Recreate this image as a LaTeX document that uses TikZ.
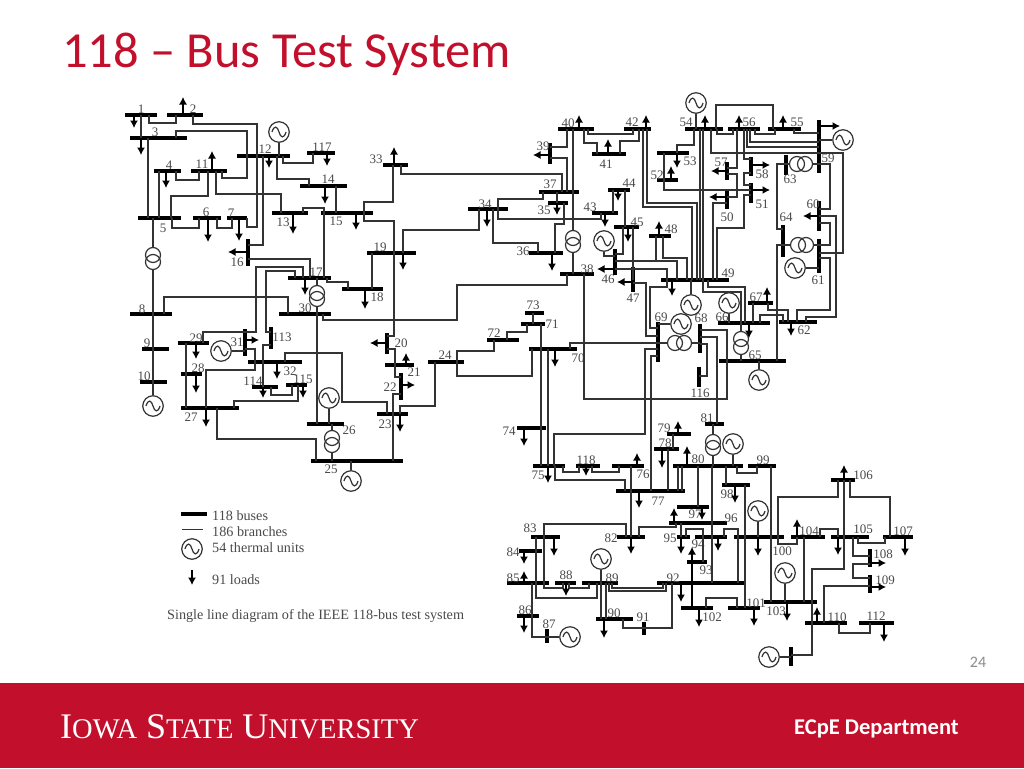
\documentclass[tikz,border=0pt]{standalone}
\usepackage{fontspec}
\setmainfont{Liberation Serif}
\newfontfamily\calfont{Carlito}
\definecolor{isured}{HTML}{C2102C}
\definecolor{ink}{HTML}{333333}
\definecolor{lblc}{HTML}{4A4A4A}
\usetikzlibrary{arrows.meta}
\tikzset{
 hbus/.style={fill=black,draw=none,inner sep=0pt,minimum height=3.6pt,rectangle},
 vbus/.style={fill=black,draw=none,inner sep=0pt,minimum width=3.6pt,rectangle},
 wire/.style={draw=ink,line width=1.2pt},
 loadarrow/.style={draw=black,line width=1.2pt,-{Latex[length=7.5pt,width=8pt]}},
 gen/.style={circle,draw=ink,line width=1.2pt,minimum size=20.5pt,inner sep=0pt,fill=white},
 xfmr/.style={circle,draw=ink,line width=1.2pt,minimum size=15pt,inner sep=0pt},
 sine/.style={draw=ink,line width=1.2pt},
 lbl/.style={font=\fontsize{13}{13}\selectfont,text=lblc,inner sep=0pt},
 legend/.style={font=\fontsize{14.2}{14.2}\selectfont,text=lblc,inner sep=0pt,anchor=west},
}
\newcommand\hb[4]{\node[hbus,minimum width={#3-#2}] (b#1) at ({(#2+#3)/2},#4) {};}
\newcommand\vb[4]{\node[vbus,minimum height={#4-#3}] (b#1) at (#2,{(#3+#4)/2}) {};}
\newcommand\lab[3]{\node[lbl] (l#1) at (#2,#3) {#1};}
\newcommand\gn[3]{\node[gen] (#1) at (#2,#3) {};\draw[sine,shift={(#2,#3)}] (-7,0) .. controls (-5,-7) and (-1.5,-6) .. (0,0) .. controls (1.5,6) and (5,7) .. (7,0);}
\newcommand\tfm[5]{\node[xfmr] (#1a) at (#2,#3) {};\node[xfmr] (#1b) at (#4,#5) {};}
% load on horizontal bus: bus, x, y of tip
\newcommand\ld[3]{\coordinate (e#1x#2) at (#2,#3);\draw[loadarrow] (#2,0 |- b#1) -- (e#1x#2);}
% load on vertical bus: bus, y, x of tip
\newcommand\lv[3]{\coordinate (e#1y#2) at (#3,#2);\draw[loadarrow] (b#1 |- 0,#2) -- (e#1y#2);}
\begin{document}
\begin{tikzpicture}[x=1pt,y=-1pt]
\useasboundingbox (0,0) rectangle (1024,768);
\fill[white] (0,0) rectangle (1024,768);
\node[inner sep=0pt,anchor=west,text=isured,font=\calfont\fontsize{50.5}{50.5}\selectfont] (title) at (62,54) {118 – Bus Test System};
\fill[isured] (0,683) rectangle (1024,768);
\node[inner sep=0pt,anchor=center,text=black!45,font=\calfont\fontsize{16}{16}\selectfont] (pageno) at (978,662) {24};
\node[inner sep=0pt,anchor=west,text=white,font=\fontsize{36}{36}\selectfont] (isu) at (60,727) {I{\fontsize{28.5}{28.5}\selectfont OWA} S{\fontsize{28.5}{28.5}\selectfont TATE} U{\fontsize{28.5}{28.5}\selectfont NIVERSITY}};
\node[inner sep=0pt,anchor=west,text=white,font=\calfont\bfseries\fontsize{22.5}{22.5}\selectfont] (dept) at (794,729) {ECpE Department};
% ---- buses
\hb{1}{125}{157}{115}\hb{2}{167}{203}{115}\hb{3}{130}{187}{138}\hb{4}{154}{181}{171}\hb{5}{138}{181}{218}
\hb{6}{193}{221}{218}\hb{7}{227}{247}{218}\hb{8}{130}{172}{314}\hb{9}{142}{169}{349}\hb{10}{140}{167}{382}
\hb{11}{191}{227}{171}\hb{12}{237}{290}{156}\hb{13}{272}{308}{213}\hb{14}{300}{347}{186}\hb{15}{321}{373}{213}
\vb{16}{248}{239}{266}\hb{17}{288}{331}{278}\hb{18}{342}{383}{289}\hb{19}{367}{416}{253}\vb{20}{387}{333}{354}
\hb{21}{385}{414}{365}\vb{22}{401}{373}{400}\hb{23}{377}{408}{414}\hb{24}{428}{464}{362}\hb{25}{311}{403}{461}
\hb{26}{307}{344}{424}\hb{27}{181}{239}{408}\hb{28}{181}{202}{374}\hb{29}{178}{209}{343}\hb{30}{279}{331}{314}
\vb{31}{245}{329}{356}\hb{32}{248}{302}{362}\hb{33}{383}{408}{165}\hb{34}{468}{508}{209}\hb{35}{548}{568}{203}
\hb{36}{529}{563}{253}\hb{37}{539}{579}{192}\hb{38}{560}{594}{274}\vb{39}{550}{143}{164}\hb{40}{558}{594}{129}
\hb{41}{592}{626}{154}\hb{42}{624}{651}{129}\hb{43}{592}{618}{213}\hb{44}{608}{630}{190}\hb{45}{614}{639}{227}
\vb{46}{615}{249}{275}\vb{47}{633}{267}{292}\hb{48}{649}{671}{236}\hb{49}{661}{729}{280}\vb{50}{727}{191}{209}
\vb{51}{751}{183}{203}\hb{52}{657}{678}{180}\hb{53}{657}{689}{153}\hb{54}{685}{723}{129}\hb{55}{768}{801}{129}
\hb{56}{728}{760}{129}\vb{57}{727}{162}{180}\vb{58}{751}{157}{176}\vb{59}{819}{120}{173}\vb{60}{819}{201}{231}
\vb{61}{819}{239}{273}\hb{62}{779}{817}{322}\vb{63}{786}{155}{175}\vb{64}{783}{225}{257}\hb{65}{719}{786}{361}
\hb{66}{718}{770}{323}\hb{67}{748}{773}{303}\vb{68}{700}{324}{353}\vb{69}{658}{322}{362}\hb{70}{529}{577}{349}
\hb{71}{521}{545}{324}\hb{72}{487}{519}{340}\hb{73}{525}{544}{313}\hb{74}{517}{546}{428}\hb{75}{533}{565}{466}
\hb{76}{612}{644}{466}\hb{77}{616}{685}{491}\hb{78}{654}{679}{449}\hb{79}{667}{691}{434}\hb{80}{673}{743}{466}
\hb{81}{705}{724}{424}\hb{82}{617}{645}{537}\hb{83}{531}{560}{537}\hb{84}{519}{542}{551}\hb{85}{507}{549}{583}
\hb{86}{517}{539}{616}\vb{87}{547}{629}{643}\hb{88}{555}{576}{583}\hb{89}{582}{618}{583}\hb{90}{596}{633}{619}
\vb{91}{644}{622}{635}\hb{92}{657}{745}{583}\hb{93}{687}{707}{562}\hb{94}{695}{727}{537}\hb{95}{677}{690}{537}
\hb{96}{669}{727}{523}\hb{97}{677}{709}{507}\hb{98}{722}{750}{485}\hb{99}{748}{776}{466}\hb{100}{734}{784}{537}
\hb{101}{728}{760}{608}\hb{102}{681}{713}{608}\hb{103}{764}{817}{602}\hb{104}{791}{825}{537}\hb{105}{831}{869}{537}
\hb{106}{831}{855}{480}\hb{107}{883}{913}{537}\vb{108}{870}{549}{567}\vb{109}{870}{575}{593}\hb{110}{805}{847}{623}
\vb{111}{791}{647}{666}\hb{112}{859}{894}{623}\vb{113}{271}{327}{349}\hb{114}{252}{278}{387}\hb{115}{286}{307}{385}
\vb{116}{699}{367}{387}\hb{117}{307}{335}{153}\hb{118}{576}{600}{466}
% ---- labels
\lab{1}{141}{109}\lab{2}{193}{109}\lab{3}{155}{132}\lab{4}{169}{165}\lab{5}{163}{228}\lab{6}{206}{212}\lab{7}{231}{213}
\lab{8}{142}{309}\lab{9}{147}{343}\lab{10}{144}{376}\lab{11}{202}{164}\lab{12}{265}{149}\lab{13}{283}{222}\lab{14}{328}{179}
\lab{15}{336}{221}\lab{16}{237}{262}\lab{17}{316}{272}\lab{18}{377}{297}\lab{19}{380}{247}\lab{20}{401}{343}\lab{21}{414}{372}
\lab{22}{390}{387}\lab{23}{385}{424}\lab{24}{445}{355}\lab{25}{331}{469}\lab{26}{349}{430}\lab{27}{191}{417}\lab{28}{198}{368}
\lab{29}{196}{338}\lab{30}{305}{308}\lab{31}{237}{342}\lab{32}{290}{371}\lab{33}{376}{159}\lab{34}{485}{204}\lab{35}{544}{210}
\lab{36}{523}{251}\lab{37}{550}{184}\lab{38}{587}{269}\lab{39}{543}{146}\lab{40}{568}{123}\lab{41}{606}{164}\lab{42}{632}{122}
\lab{43}{590}{207}\lab{44}{629}{183}\lab{45}{637}{222}\lab{46}{608}{279}\lab{47}{633}{298}\lab{48}{671}{229}\lab{49}{728}{273}
\lab{50}{727}{217}\lab{51}{762}{204}\lab{52}{657}{175}\lab{53}{690}{161}\lab{54}{686}{122}\lab{55}{797}{122}\lab{56}{749}{122}
\lab{57}{721}{162}\lab{58}{762}{174}\lab{59}{828}{158}\lab{60}{813}{204}\lab{61}{818}{280}\lab{62}{804}{330}\lab{63}{790}{179}
\lab{64}{786}{217}\lab{65}{755}{355}\lab{66}{722}{317}\lab{67}{756}{297}\lab{68}{701}{318}\lab{69}{661}{317}\lab{70}{578}{358}
\lab{71}{552}{324}\lab{72}{494}{333}\lab{73}{533}{305}\lab{74}{509}{431}\lab{75}{538}{475}\lab{76}{643}{474}\lab{77}{658}{501}
\lab{78}{665}{443}\lab{79}{664}{428}\lab{80}{698}{459}\lab{81}{707}{418}\lab{82}{611}{538}\lab{83}{530}{528}\lab{84}{513}{552}
\lab{85}{513}{578}\lab{86}{525}{610}\lab{87}{549}{624}\lab{88}{566}{575}\lab{89}{612}{578}\lab{90}{614}{613}\lab{91}{643}{617}
\lab{92}{673}{578}\lab{93}{706}{570}\lab{94}{698}{544}\lab{95}{670}{538}\lab{96}{731}{518}\lab{97}{695}{514}\lab{98}{727}{494}
\lab{99}{763}{460}\lab{100}{782}{551}\lab{101}{756}{603}\lab{102}{712}{617}\lab{103}{776}{611}\lab{104}{809}{531}\lab{105}{863}{529}
\lab{106}{863}{475}\lab{107}{903}{531}\lab{108}{883}{554}\lab{109}{885}{580}\lab{110}{837}{617}\lab{112}{876}{616}\lab{113}{282}{337}
\lab{114}{253}{381}\lab{115}{303}{379}\lab{116}{700}{393}\lab{117}{322}{147}\lab{118}{586}{460}
% ---- generators
\gn{g12}{279}{132}\gn{g10}{153}{406}\gn{g31}{221}{351}\gn{g26}{329}{398}\gn{g25}{351}{481}
\gn{g46}{604}{241}\gn{g54}{696}{103}\gn{g59}{843}{140}\gn{g61}{795}{268}\gn{g66}{729}{303}\gn{g49}{691}{305}
\gn{g69}{681}{324}\gn{g65}{759}{380}\gn{g80}{733}{444}\gn{g89}{601}{559}\gn{g87}{570}{637}\gn{g100}{758}{511}
\gn{g103}{785}{573}\gn{g111}{769}{657}
% ---- transformers
\tfm{t5}{153}{255}{153}{262}\tfm{t17}{317}{293}{317}{299}\tfm{t26}{332}{438}{332}{445}\tfm{t38}{573}{238}{573}{245}
\tfm{t69}{675}{343}{684}{343}\tfm{t66}{741}{339}{741}{347}\tfm{t63}{797}{164}{805}{164}\tfm{t64}{798}{245}{806}{245}
\tfm{t81}{713}{442}{713}{448}
% ---- transformer and generator stubs
\draw[wire] (153,0|-b5) -- (t5a);\draw[wire] (t5b) -- (153,0|-b8);
\draw[wire] (317,0|-b17) -- (t17a);\draw[wire] (t17b) -- (317,0|-b30);
\draw[wire] (332,0|-b26) -- (t26a);\draw[wire] (t26b) -- (332,0|-b25);
\draw[wire] (573,0|-b40) -- (t38a);\draw[wire] (t38b) -- (573,0|-b38);
\draw[wire] (b69|-0,343) -- (t69a);\draw[wire] (t69b) -- (b68|-0,343);
\draw[wire] (741,0|-b66) -- (t66a);\draw[wire] (t66b) -- (741,0|-b65);
\draw[wire] (b63|-0,164) -- (t63a);\draw[wire] (t63b) -- (b59|-0,164);
\draw[wire] (b64|-0,245) -- (t64a);\draw[wire] (t64b) -- (b61|-0,245);
\draw[wire] (713,0|-b81) -- (t81a);\draw[wire] (t81b) -- (713,0|-b80);
\draw[wire] (g12) -- (279,0|-b12);\draw[wire] (g10) -- (153,0|-b8);\draw[wire] (g31) -- (b31|-g31);
\draw[wire] (g26) -- (329,0|-b26);\draw[wire] (g25) -- (351,0|-b25);\draw[wire] (g54) -- (696,0|-b54);
\draw[wire] (g59) -- (b59|-g59);\draw[wire] (g61) -- (b61|-g61);\draw[wire] (g66) -- (729,0|-b66);
\draw[wire] (g49) -- (691,0|-b49);\draw[wire] (g69) -- (b69|-g69);\draw[wire] (g65) -- (759,0|-b65);
\draw[wire] (g80) -- (733,0|-b80);\draw[wire] (g89) -- (601,0|-b89);\draw[wire] (g87) -- (b87|-g87);
\draw[wire] (g100) -- (758,0|-b100);\draw[wire] (g103) -- (785,0|-b103);\draw[wire] (g111) -- (b111|-g111);
\draw[wire] (g46) -- (604,256) -- (b46|-0,256);
% ---- branches, left half
\draw[wire] (149,0|-b1) -- (149,123) -- (176,123) -- (176,0|-b2);
\draw[wire] (141,0|-b1) -- (141,0|-b3);
\draw[wire] (193,0|-b2) -- (193,124) -- (257,124) -- (257,227) -- (247,227) -- (247,0|-b7);
\draw[wire] (176,0|-b3) -- (176,131) -- (247,131) -- (247,178) -- (222,178) -- (222,0|-b11);
\draw[wire] (176,0|-b4) -- (176,180) -- (199,180) -- (199,0|-b11);
\draw[wire] (159,0|-b4) -- (159,0|-b5);
\draw[wire] (148,0|-b3) -- (148,0|-b5);
\draw[wire] (208,0|-b11) -- (208,196) -- (171,196) -- (171,0|-b5);
\draw[wire] (216,0|-b11) -- (216,194) -- (281,194) -- (281,0|-b13);
\draw[wire] (172,0|-b5) -- (172,228) -- (199,228) -- (199,0|-b6);
\draw[wire] (217,0|-b6) -- (217,228) -- (232,228) -- (232,0|-b7);
\draw[wire] (283,0|-b12) -- (283,163) -- (313,163) -- (313,0|-b117);
\draw[wire] (277,0|-b12) -- (277,179) -- (309,179) -- (309,0|-b14);
\draw[wire] (336,0|-b14) -- (336,0|-b15);
\draw[wire] (303,0|-b13) -- (303,208) -- (324,208) -- (324,0|-b17);
\draw[wire] (393,0|-b33) -- (393,202) -- (364,202) -- (364,0|-b15);
\draw[wire] (401,0|-b33) -- (401,174) -- (562,174) -- (562,0|-b37);
\draw[wire] (364,0|-b15) -- (364,221) -- (394,221) -- (394,336) -- (b20|-0,336);
\draw[wire] (263,0|-b12) -- (263,245) -- (b16|-0,245);
\draw[wire] (b16|-0,259) -- (310,259) -- (310,0|-b17);
\draw[wire] (303,0|-b17) -- (303,267) -- (256,267) -- (256,332) -- (b31|-0,332);
\draw[wire] (295,0|-b17) -- (295,271) -- (266,271) -- (266,332) -- (b113|-0,332);
\draw[wire] (164,0|-b8) -- (164,297) -- (288,297) -- (288,0|-b30);
\draw[wire] (323,0|-b30) -- (323,320) -- (457,320) -- (457,285) -- (567,285) -- (567,0|-b38);
\draw[wire] (327,0|-b17) -- (327,282) -- (348,282) -- (348,0|-b18);
\draw[wire] (372,0|-b19) -- (372,0|-b18);
\draw[wire] (403,0|-b19) -- (403,230) -- (479,230) -- (479,0|-b34);
\draw[wire] (153,0|-b8) -- (153,0|-b10);
\draw[wire] (186,0|-b29) -- (186,0|-b27);
\draw[wire] (206,0|-b27) -- (206,370) -- (255,370) -- (255,0|-b32);
\draw[wire] (203,0|-b29) -- (203,332) -- (b31|-0,332);
\draw[wire] (b31|-0,349) -- (255,349) -- (255,0|-b32);
\draw[wire] (b113|-0,345) -- (263,345) -- (263,0|-b114);
\draw[wire] (285,0|-b32) -- (285,353) -- (342,353) -- (342,402) -- (387,402) -- (387,0|-b23);
\draw[wire] (271,0|-b114) -- (271,395) -- (292,395) -- (292,0|-b115);
\draw[wire] (298,0|-b115) -- (298,401) -- (234,401) -- (234,0|-b27);
\draw[wire] (217,0|-b27) -- (217,439) -- (316,439) -- (316,0|-b25);
\draw[wire] (317,0|-b30) -- (317,0|-b26);
\draw[wire] (393,0|-b25) -- (393,394) -- (b22|-0,394);
\draw[wire] (400,0|-b23) -- (400,406) -- (435,406) -- (435,0|-b24);
\draw[wire] (457,0|-b24) -- (457,351) -- (494,351) -- (494,0|-b72);
\draw[wire] (457,0|-b24) -- (457,376) -- (532,376) -- (532,0|-b70);
\draw[wire] (b20|-0,349) -- (395,349) -- (395,0|-b21);
\draw[wire] (395,0|-b21) -- (395,377) -- (b22|-0,377);
% ---- branches, upper middle
\draw[wire] (584,0|-b40) -- (584,143) -- (597,143) -- (597,0|-b41);
\draw[wire] (620,0|-b41) -- (620,141) -- (639,141) -- (639,0|-b42);
\draw[wire] (588,0|-b40) -- (588,134) -- (633,134) -- (633,0|-b42);
\draw[wire] (567,0|-b40) -- (567,147) -- (b39|-0,147);
\draw[wire] (b39|-0,158) -- (567,158) -- (567,0|-b37);
\draw[wire] (498,0|-b34) -- (498,199) -- (543,199) -- (543,0|-b37);
\draw[wire] (498,0|-b34) -- (498,219) -- (601,219) -- (601,0|-b43);
\draw[wire] (493,0|-b34) -- (493,243) -- (538,243) -- (538,0|-b36);
\draw[wire] (555,0|-b36) -- (555,224) -- (564,224) -- (564,0|-b35);
\draw[wire] (557,0|-b37) -- (557,0|-b35);
\draw[wire] (613,0|-b43) -- (613,0|-b44);
\draw[wire] (625,0|-b44) -- (625,0|-b45);
\draw[wire] (623,0|-b45) -- (623,254) -- (b46|-0,254);
\draw[wire] (633,0|-b45) -- (633,0|-b47);
\draw[wire] (663,0|-b48) -- (663,258) -- (687,258) -- (687,0|-b49);
\draw[wire] (656,0|-b48) -- (656,261);
\draw[wire] (b46|-0,261) -- (677,261) -- (677,0|-b49);
\draw[wire] (b46|-0,269) -- (667,269) -- (667,0|-b49);
\draw[wire] (b47|-0,283) -- (646,283) -- (646,336) -- (b69|-0,336);
\draw[wire] (667,0|-b49) -- (667,287) -- (650,287) -- (650,328) -- (b69|-0,328);
\draw[wire] (643,0|-b42) -- (643,207) -- (692,207) -- (692,0|-b49);
\draw[wire] (647,0|-b42) -- (647,203) -- (697,203) -- (697,0|-b49);
\draw[wire] (700,0|-b54) -- (700,0|-b49);\draw[wire] (703,0|-b54) -- (703,0|-b49);
% ---- branches, upper right
\draw[wire] (703,0|-b49) -- (703,292) -- (741,292) -- (741,0|-b66);
\draw[wire] (708,0|-b49) -- (708,287) -- (745,287) -- (745,0|-b66);
\draw[wire] (753,0|-b66) -- (753,0|-b67);
\draw[wire] (768,0|-b67) -- (768,310) -- (788,310) -- (788,0|-b62);
\draw[wire] (760,0|-b66) -- (760,315) -- (783,315) -- (783,0|-b62);
\draw[wire] (797,0|-b62) -- (797,310) -- (830,310) -- (830,258) -- (b61|-0,258);
\draw[wire] (806,0|-b62) -- (806,317) -- (836,317) -- (836,216) -- (b60|-0,216);
\draw[wire] (777,0|-b65) -- (777,245) -- (b64|-0,245);
\draw[wire] (b63|-0,164) -- (777,164) -- (777,229) -- (b64|-0,229);
\draw[wire] (b60|-0,223) -- (830,223) -- (830,245) -- (b61|-0,245);
\draw[wire] (b59|-0,164) -- (830,164) -- (830,209) -- (b60|-0,209);
\draw[wire] (711,0|-b54) -- (711,153) -- (843,153) -- (843,253) -- (b61|-0,253);
\draw[wire] (716,0|-b54) -- (716,105) -- (773,105) -- (773,0|-b55);
\draw[wire] (717,0|-b54) -- (717,134) -- (733,134) -- (733,0|-b56);
\draw[wire] (755,0|-b56) -- (755,134) -- (775,134) -- (775,0|-b55);
\draw[wire] (794,0|-b55) -- (794,133) -- (b59|-0,133);
\draw[wire] (750,0|-b56) -- (750,142) -- (b59|-0,142);
\draw[wire] (747,0|-b56) -- (747,147) -- (b59|-0,147);
\draw[wire] (694,0|-b54) -- (694,145) -- (677,145) -- (677,0|-b53);
\draw[wire] (664,0|-b53) -- (664,0|-b52);
\draw[wire] (664,0|-b52) -- (664,190) -- (b51|-0,190);
\draw[wire] (744,0|-b56) -- (744,159) -- (b58|-0,159);
\draw[wire] (b58|-0,173) -- (744,173) -- (744,185) -- (b51|-0,185);
\draw[wire] (b51|-0,195) -- (744,195) -- (744,228) -- (717,228) -- (717,0|-b49);
\draw[wire] (737,0|-b56) -- (737,168) -- (b57|-0,168);
\draw[wire] (b57|-0,174) -- (737,174) -- (737,197) -- (b50|-0,197);
\draw[wire] (b50|-0,203) -- (713,203) -- (713,0|-b49);
% ---- branches, centre
\draw[wire] (570,0|-b70) -- (570,343) -- (b69|-0,343);
\draw[wire] (b69|-0,349) -- (645,349) -- (645,434) -- (554,434) -- (554,0|-b75);
\draw[wire] (b69|-0,356) -- (651,356) -- (651,0|-b77);
\draw[wire] (584,0|-b38) -- (584,399) -- (727,399) -- (727,330) -- (b68|-0,330);
\draw[wire] (b68|-0,337) -- (717,337) -- (717,0|-b81);
\draw[wire] (b68|-0,344) -- (707,344) -- (707,376) -- (b116|-0,376);
\draw[wire] (533,0|-b73) -- (533,0|-b71);
\draw[wire] (527,0|-b71) -- (527,332) -- (507,332) -- (507,0|-b72);
\draw[wire] (541,0|-b71) -- (541,0|-b75);
\draw[wire] (548,0|-b70) -- (548,0|-b75);
\draw[wire] (563,0|-b75) -- (563,472) -- (579,472) -- (579,0|-b118);
\draw[wire] (592,0|-b118) -- (592,472) -- (619,472) -- (619,0|-b76);
\draw[wire] (631,0|-b76) -- (631,0|-b82);
\draw[wire] (555,0|-b75) -- (555,480) -- (625,480) -- (625,0|-b77);
\draw[wire] (668,0|-b77) -- (668,0|-b78);
\draw[wire] (673,0|-b78) -- (673,0|-b79);
\draw[wire] (678,0|-b77) -- (678,0|-b80);
\draw[wire] (682,0|-b77) -- (682,0|-b80);
\draw[wire] (737,0|-b80) -- (737,473) -- (757,473) -- (757,0|-b99);
\draw[wire] (726,0|-b80) -- (726,0|-b98);
\draw[wire] (745,0|-b98) -- (745,0|-b101);
\draw[wire] (698,0|-b80) -- (698,0|-b97);
\draw[wire] (712,0|-b80) -- (712,0|-b92);
% ---- branches, lower
\draw[wire] (681,0|-b96) -- (681,0|-b95);
\draw[wire] (686,0|-b95) -- (686,529) -- (703,529) -- (703,0|-b94);
\draw[wire] (703,0|-b94) -- (703,0|-b93);
\draw[wire] (724,0|-b94) -- (724,529) -- (738,529) -- (738,0|-b92);
\draw[wire] (778,0|-b100) -- (778,544) -- (797,544) -- (797,0|-b104);
\draw[wire] (778,0|-b100) -- (778,497) -- (838,497) -- (838,0|-b106);
\draw[wire] (850,0|-b106) -- (850,497) -- (890,497) -- (890,0|-b107);
\draw[wire] (844,0|-b106) -- (844,569) -- (812,569) -- (812,655) -- (b111|-0,655);
\draw[wire] (820,0|-b104) -- (820,529) -- (838,529) -- (838,0|-b105);
\draw[wire] (858,0|-b105) -- (858,543) -- (885,543) -- (885,0|-b107);
\draw[wire] (853,0|-b105) -- (853,556) -- (b108|-0,556);
\draw[wire] (b108|-0,564) -- (853,564) -- (853,578) -- (b109|-0,578);
\draw[wire] (b109|-0,586) -- (824,586) -- (824,0|-b110);
\draw[wire] (839,0|-b110) -- (839,633) -- (870,633) -- (870,0|-b112);
\draw[wire] (771,0|-b99) -- (771,0|-b103);
\draw[wire] (804,0|-b104) -- (804,0|-b103);
\draw[wire] (706,0|-b102) -- (706,598) -- (737,598) -- (737,0|-b101);
\draw[wire] (536,0|-b83) -- (536,598) -- (597,598) -- (597,0|-b89);
\draw[wire] (544,0|-b83) -- (544,588) -- (563,588) -- (563,0|-b88);
\draw[wire] (544,0|-b83) -- (544,524) -- (626,524) -- (626,0|-b82);
\draw[wire] (639,0|-b82) -- (639,527) -- (676,527) -- (676,0|-b96);
\draw[wire] (569,0|-b88) -- (569,588) -- (589,588) -- (589,0|-b89);
\draw[wire] (532,0|-b85) -- (532,637) -- (b87|-0,637);
\draw[wire] (601,0|-b89) -- (601,0|-b90);
\draw[wire] (606,0|-b89) -- (606,0|-b90);
\draw[wire] (623,0|-b90) -- (623,628) -- (b91|-0,628);
\draw[wire] (b91|-0,628) -- (672,628) -- (672,0|-b92);
\draw[wire] (609,0|-b89) -- (609,591) -- (666,591) -- (666,0|-b92);
\draw[wire] (612,0|-b89) -- (612,588) -- (663,588) -- (663,0|-b92);
% ---- loads on horizontal buses (tip below or above)
\ld{1}{134}{128}\ld{2}{183}{97}\ld{3}{141}{155}\ld{4}{166}{188}\ld{11}{212}{151}\ld{6}{208}{242}\ld{7}{239}{241}
\ld{12}{269}{168}\ld{117}{327}{166}\ld{14}{325}{204}\ld{15}{356}{230}\ld{13}{293}{234}\ld{33}{394}{147}\ld{17}{305}{295}
\ld{18}{365}{309}\ld{19}{403}{270}\ld{29}{196}{359}\ld{28}{196}{393}\ld{27}{206}{427}\ld{32}{277}{379}\ld{114}{263}{398}
\ld{115}{303}{398}\ld{23}{400}{432}\ld{21}{406}{353}\ld{40}{579}{115}\ld{42}{646}{115}\ld{41}{608}{139}\ld{34}{487}{227}
\ld{36}{552}{271}\ld{35}{557}{215}\ld{43}{605}{227}\ld{44}{618}{201}\ld{45}{628}{242}\ld{48}{659}{221}\ld{49}{672}{296}
\ld{66}{749}{338}\ld{67}{767}{287}\ld{62}{791}{336}\ld{54}{705}{115}\ld{56}{739}{115}\ld{55}{783}{115}\ld{53}{677}{168}
\ld{52}{671}{166}\ld{70}{555}{367}\ld{74}{524}{446}\ld{75}{548}{483}\ld{118}{586}{476}\ld{76}{637}{453}\ld{77}{639}{508}
\ld{78}{662}{468}\ld{79}{678}{421}\ld{80}{687}{446}\ld{98}{735}{503}\ld{97}{702}{520}\ld{96}{674}{508}\ld{95}{681}{554}
\ld{94}{718}{551}\ld{102}{692}{547}\ld{100}{758}{556}\ld{104}{797}{519}\ld{106}{844}{465}\ld{105}{838}{555}\ld{107}{905}{556}
\ld{110}{817}{607}\ld{112}{884}{642}\ld{103}{787}{621}\ld{101}{754}{626}\ld{102}{699}{627}\ld{92}{681}{602}\ld{88}{566}{596}
\ld{85}{524}{571}\ld{84}{524}{564}\ld{83}{554}{556}\ld{82}{631}{554}\ld{86}{524}{633}\ld{90}{604}{638}
% ---- loads on vertical buses
\lv{16}{252}{228}\lv{31}{340}{259}\lv{20}{343}{370}\lv{22}{385}{415}\lv{39}{155}{533}\lv{46}{269}{597}\lv{47}{282}{617}
\lv{51}{190}{770}\lv{58}{165}{770}\lv{57}{171}{711}\lv{50}{197}{709}\lv{60}{216}{803}\lv{59}{126}{840}\lv{108}{563}{886}\lv{109}{587}{886}
% ---- legend
\node[hbus,minimum width=26] (legbus) at (194,514) {};
\coordinate (lega) at (182,529);\coordinate (legb) at (203,529);
\draw[draw=ink,line width=0.7pt] (lega) -- (legb);
\gn{leggen}{192}{549}
\coordinate (legc) at (192,570);\coordinate (legd) at (192,585);
\draw[loadarrow] (legc) -- (legd);
\node[legend] (t1) at (212,516) {118 buses};
\node[legend] (t2) at (212,532) {186 branches};
\node[legend] (t3) at (212,548) {54 thermal units};
\node[legend] (t4) at (212,580) {91 loads};
\node[legend] (t5) at (167,616) {Single line diagram of the IEEE 118-bus test system};
\end{tikzpicture}
\end{document}
